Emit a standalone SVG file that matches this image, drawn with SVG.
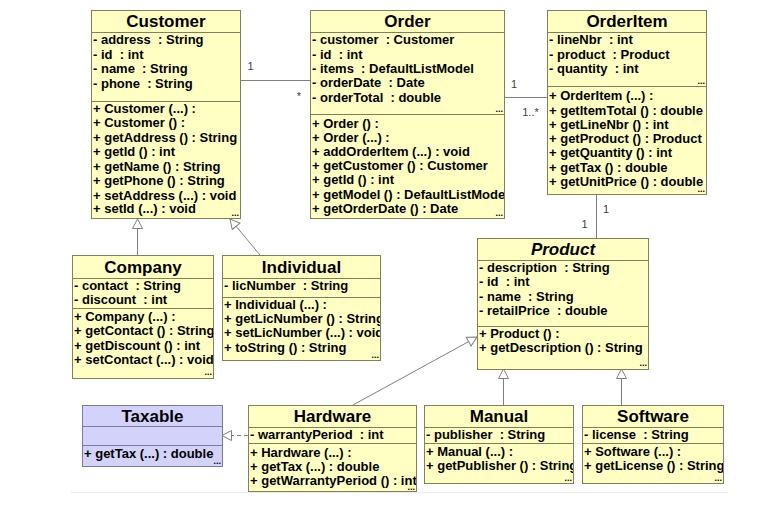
<svg xmlns="http://www.w3.org/2000/svg" width="762" height="505" viewBox="0 0 762 505">
<style>
.box{fill:#ffffc4;stroke:#80805e;stroke-width:1}
.tbox{fill:#d2d2fa;stroke:#7c7c98;stroke-width:1}
.sep{stroke:#80805e;stroke-width:1}
.tsep{stroke:#7c7c98;stroke-width:1}
.title{font-family:"Liberation Sans",Arial,sans-serif;font-weight:bold;font-size:17px;text-anchor:middle;fill:#000}
.it{font-style:italic}
.m{font-family:"Liberation Sans",Arial,sans-serif;font-weight:bold;font-size:13px;fill:#000;white-space:pre}
.dots{font-family:"Liberation Sans",Arial,sans-serif;font-weight:bold;font-size:9px;text-anchor:end;fill:#000}
.conn{stroke:#808080;stroke-width:1;fill:none}
.dash{stroke-dasharray:4,3}
.lbl{font-family:"Liberation Sans",Arial,sans-serif;font-size:11px;fill:#404040;text-anchor:middle}
</style>
<defs>
<marker id="gen" markerUnits="userSpaceOnUse" markerWidth="12" markerHeight="12" viewBox="0 0 12 12" refX="11" refY="6" orient="auto">
<path d="M1.5,1 L11,6 L1.5,11 Z" fill="#fff" stroke="#808080" stroke-width="1"/>
</marker>
<clipPath id="cCustomer"><rect x="91" y="10" width="149" height="208"/></clipPath>
<clipPath id="cOrder"><rect x="310" y="10" width="194" height="208"/></clipPath>
<clipPath id="cOrderItem"><rect x="547" y="10" width="159" height="184"/></clipPath>
<clipPath id="cProduct"><rect x="477" y="238" width="171" height="131"/></clipPath>
<clipPath id="cCompany"><rect x="72" y="255" width="141" height="123"/></clipPath>
<clipPath id="cIndividual"><rect x="222" y="255" width="158" height="105"/></clipPath>
<clipPath id="cTaxable"><rect x="82" y="405" width="140" height="61"/></clipPath>
<clipPath id="cHardware"><rect x="248" y="405" width="168" height="86"/></clipPath>
<clipPath id="cManual"><rect x="424" y="405" width="149" height="78"/></clipPath>
<clipPath id="cSoftware"><rect x="582" y="405" width="141" height="78"/></clipPath>
</defs>
<rect x="0" y="0" width="762" height="505" fill="#fff"/>
<line x1="71" y1="492.5" x2="728" y2="492.5" stroke="#ececec" stroke-width="1"/>

<g id="connectors">
<path class="conn" d="M240,80.5 H310"/>
<path class="conn" d="M504,97.5 H547"/>
<path class="conn" d="M596.5,194 V238"/>
<path class="conn" d="M137.5,255 V219" marker-end="url(#gen)"/>
<path class="conn" d="M260,255 L230,219" marker-end="url(#gen)"/>
<path class="conn" d="M353,405 L477,337" marker-end="url(#gen)"/>
<path class="conn" d="M503.5,405 V369" marker-end="url(#gen)"/>
<path class="conn" d="M621.5,405 V369" marker-end="url(#gen)"/>
<path class="conn dash" d="M248,435.5 H222" marker-end="url(#gen)"/>
<text class="lbl" x="250.5" y="70">1</text>
<text class="lbl" x="299" y="99.5">*</text>
<text class="lbl" x="514" y="87.5">1</text>
<text class="lbl" x="530.5" y="115.5">1..*</text>
<text class="lbl" x="606" y="213">1</text>
<text class="lbl" x="584.5" y="227.5">1</text>
</g>

<g id="Customer">
<rect class="box" x="91.5" y="10.5" width="149" height="208"/>
<line class="sep" x1="91.5" y1="32.5" x2="240.5" y2="32.5"/>
<line class="sep" x1="91.5" y1="101.5" x2="240.5" y2="101.5"/>
<text class="title" x="166" y="27">Customer</text>
<g clip-path="url(#cCustomer)">
<text class="m" x="93" y="44">- address  : String</text>
<text class="m" x="93" y="58.5">- id  : int</text>
<text class="m" x="93" y="73">- name  : String</text>
<text class="m" x="93" y="87.5">- phone  : String</text>
<text class="m" x="93" y="112.5">+ Customer (...) :</text>
<text class="m" x="93" y="127">+ Customer () :</text>
<text class="m" x="93" y="141.5">+ getAddress () : String</text>
<text class="m" x="93" y="156">+ getId () : int</text>
<text class="m" x="93" y="170.5">+ getName () : String</text>
<text class="m" x="93" y="185">+ getPhone () : String</text>
<text class="m" x="93" y="199.5">+ setAddress (...) : void</text>
<text class="m" x="93" y="213">+ setId (...) : void</text>
</g>
<text class="dots" x="239" y="216">...</text>
</g>

<g id="Order">
<rect class="box" x="310.5" y="10.5" width="194" height="208"/>
<line class="sep" x1="310.5" y1="32.5" x2="504.5" y2="32.5"/>
<line class="sep" x1="310.5" y1="114.5" x2="504.5" y2="114.5"/>
<text class="title" x="407.5" y="27">Order</text>
<g clip-path="url(#cOrder)">
<text class="m" x="312" y="44">- customer  : Customer</text>
<text class="m" x="312" y="58.5">- id  : int</text>
<text class="m" x="312" y="73">- items  : DefaultListModel</text>
<text class="m" x="312" y="87.2">- orderDate  : Date</text>
<text class="m" x="312" y="101.8">- orderTotal  : double</text>
<text class="m" x="312" y="127.8">+ Order () :</text>
<text class="m" x="312" y="141.5">+ Order (...) :</text>
<text class="m" x="312" y="155.8">+ addOrderItem (...) : void</text>
<text class="m" x="312" y="170.2">+ getCustomer () : Customer</text>
<text class="m" x="312" y="184">+ getId () : int</text>
<text class="m" x="312" y="198.8">+ getModel () : DefaultListModel</text>
<text class="m" x="312" y="212.5">+ getOrderDate () : Date</text>
</g>
<text class="dots" x="503" y="112">...</text>
<text class="dots" x="503" y="216">...</text>
</g>

<g id="OrderItem">
<rect class="box" x="547.5" y="10.5" width="159" height="184"/>
<line class="sep" x1="547.5" y1="32.5" x2="706.5" y2="32.5"/>
<line class="sep" x1="547.5" y1="86.5" x2="706.5" y2="86.5"/>
<text class="title" x="627" y="27">OrderItem</text>
<g clip-path="url(#cOrderItem)">
<text class="m" x="549" y="44">- lineNbr  : int</text>
<text class="m" x="549" y="58.5">- product  : Product</text>
<text class="m" x="549" y="73">- quantity  : int</text>
<text class="m" x="549" y="99.5">+ OrderItem (...) :</text>
<text class="m" x="549" y="114.5">+ getItemTotal () : double</text>
<text class="m" x="549" y="128.5">+ getLineNbr () : int</text>
<text class="m" x="549" y="142.8">+ getProduct () : Product</text>
<text class="m" x="549" y="157.2">+ getQuantity () : int</text>
<text class="m" x="549" y="171.5">+ getTax () : double</text>
<text class="m" x="549" y="186">+ getUnitPrice () : double</text>
</g>
<text class="dots" x="705" y="191.5">...</text>
<text class="dots" x="705" y="84">...</text>
</g>

<g id="Product">
<rect class="box" x="477.5" y="238.5" width="171" height="131"/>
<line class="sep" x1="477.5" y1="260.5" x2="648.5" y2="260.5"/>
<line class="sep" x1="477.5" y1="326.5" x2="648.5" y2="326.5"/>
<text class="title it" x="563" y="254.5">Product</text>
<g clip-path="url(#cProduct)">
<text class="m" x="479" y="272.2">- description  : String</text>
<text class="m" x="479" y="286.2">- id  : int</text>
<text class="m" x="479" y="301">- name  : String</text>
<text class="m" x="479" y="314.5">- retailPrice  : double</text>
<text class="m" x="479" y="337.5">+ Product () :</text>
<text class="m" x="479" y="351.8">+ getDescription () : String</text>
</g>
<text class="dots" x="647" y="366">...</text>
</g>

<g id="Company">
<rect class="box" x="72.5" y="255.5" width="141" height="123"/>
<line class="sep" x1="72.5" y1="278.5" x2="213.5" y2="278.5"/>
<line class="sep" x1="72.5" y1="308.5" x2="213.5" y2="308.5"/>
<text class="title" x="143" y="273">Company</text>
<g clip-path="url(#cCompany)">
<text class="m" x="74" y="289.5">- contact  : String</text>
<text class="m" x="74" y="303.5">- discount  : int</text>
<text class="m" x="74" y="321.2">+ Company (...) :</text>
<text class="m" x="74" y="335.2">+ getContact () : String</text>
<text class="m" x="74" y="349.5">+ getDiscount () : int</text>
<text class="m" x="74" y="363.5">+ setContact (...) : void</text>
</g>
<text class="dots" x="212" y="375">...</text>
</g>

<g id="Individual">
<rect class="box" x="222.5" y="255.5" width="158" height="105"/>
<line class="sep" x1="222.5" y1="278.5" x2="380.5" y2="278.5"/>
<line class="sep" x1="222.5" y1="297.5" x2="380.5" y2="297.5"/>
<text class="title" x="301.5" y="273">Individual</text>
<g clip-path="url(#cIndividual)">
<text class="m" x="224" y="289.5">- licNumber  : String</text>
<text class="m" x="224" y="308.5">+ Individual (...) :</text>
<text class="m" x="224" y="322.8">+ getLicNumber () : String</text>
<text class="m" x="224" y="337.2">+ setLicNumber (...) : void</text>
<text class="m" x="224" y="351.8">+ toString () : String</text>
</g>
<text class="dots" x="379" y="357.5">...</text>
</g>

<g id="Taxable">
<rect class="tbox" x="82.5" y="405.5" width="140" height="61"/>
<line class="tsep" x1="82.5" y1="426.5" x2="222.5" y2="426.5"/>
<line class="tsep" x1="82.5" y1="445.5" x2="222.5" y2="445.5"/>
<text class="title" x="152.5" y="421.5">Taxable</text>
<g clip-path="url(#cTaxable)">
<text class="m" x="84" y="458">+ getTax (...) : double</text>
</g>
<text class="dots" x="221" y="463.5">...</text>
</g>

<g id="Hardware">
<rect class="box" x="248.5" y="405.5" width="168" height="86"/>
<line class="sep" x1="248.5" y1="427.5" x2="416.5" y2="427.5"/>
<line class="sep" x1="248.5" y1="443.5" x2="416.5" y2="443.5"/>
<text class="title" x="332.5" y="421.5">Hardware</text>
<g clip-path="url(#cHardware)">
<text class="m" x="250" y="438.5">- warrantyPeriod  : int</text>
<text class="m" x="250" y="457.2">+ Hardware (...) :</text>
<text class="m" x="250" y="470.8">+ getTax (...) : double</text>
<text class="m" x="250" y="484.5">+ getWarrantyPeriod () : int</text>
</g>
<text class="dots" x="415" y="490">...</text>
</g>

<g id="Manual">
<rect class="box" x="424.5" y="405.5" width="149" height="78"/>
<line class="sep" x1="424.5" y1="427.5" x2="573.5" y2="427.5"/>
<line class="sep" x1="424.5" y1="443.5" x2="573.5" y2="443.5"/>
<text class="title" x="499" y="421.5">Manual</text>
<g clip-path="url(#cManual)">
<text class="m" x="426" y="438.5">- publisher  : String</text>
<text class="m" x="426" y="456.2">+ Manual (...) :</text>
<text class="m" x="426" y="469.8">+ getPublisher () : String</text>
</g>
<text class="dots" x="572" y="480.5">...</text>
</g>

<g id="Software">
<rect class="box" x="582.5" y="405.5" width="141" height="78"/>
<line class="sep" x1="582.5" y1="427.5" x2="723.5" y2="427.5"/>
<line class="sep" x1="582.5" y1="443.5" x2="723.5" y2="443.5"/>
<text class="title" x="653" y="421.5">Software</text>
<g clip-path="url(#cSoftware)">
<text class="m" x="584" y="438.5">- license  : String</text>
<text class="m" x="584" y="456.2">+ Software (...) :</text>
<text class="m" x="584" y="469.8">+ getLicense () : String</text>
</g>
<text class="dots" x="722" y="480.5">...</text>
</g>
</svg>
